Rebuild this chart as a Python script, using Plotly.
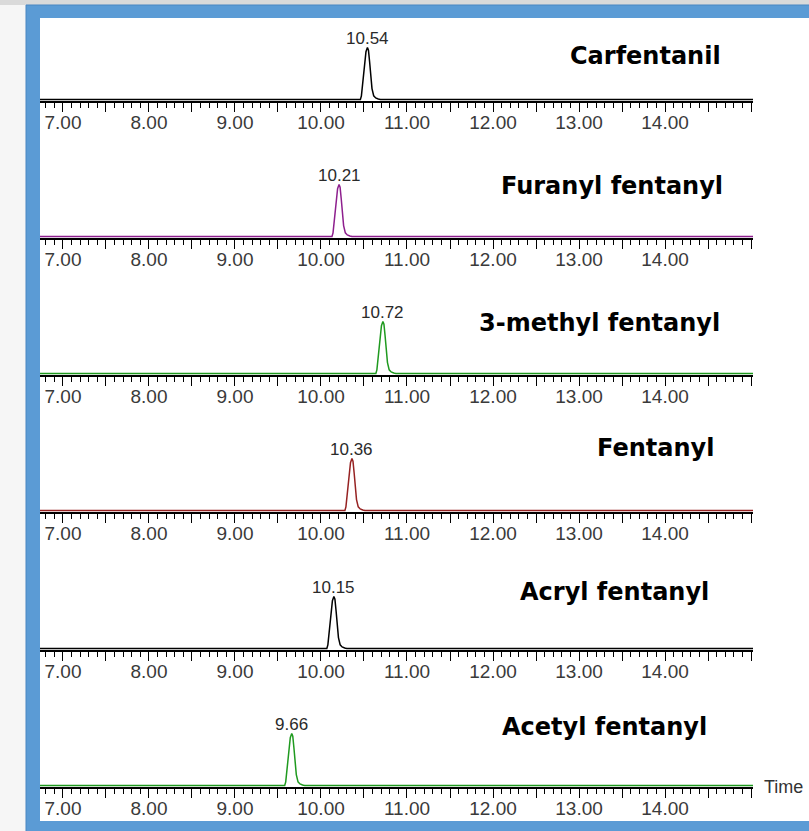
import plotly.graph_objects as go

# ---------------- data ----------------
compounds = ["Carfentanil", "Furanyl fentanyl", "3-methyl fentanyl",
             "Fentanyl", "Acryl fentanyl", "Acetyl fentanyl"]
retention_times = [10.54, 10.21, 10.72, 10.36, 10.15, 9.66]
peak_heights = [100, 100, 100, 100, 100, 100]          # relative intensity, %
trace_colors = ["#000000", "#8e1f8e", "#1f9a1f", "#962222", "#000000", "#1f9a1f"]

# peak profile (offset from apex in min, % of apex)
peak_offsets = [-0.082, -0.070, -0.051, -0.034, -0.017, 0.0, 0.012, 0.025,
                0.038, 0.053, 0.073, 0.096, 0.126, 0.150]
peak_profile = [0, 7, 34, 66, 92, 100, 95, 73, 44, 21, 7, 3, 1, 0]

time_start, time_end = 6.733, 15.023
major_ticks = [7.0, 7.5, 8.0, 8.5, 9.0, 9.5, 10.0, 10.5, 11.0, 11.5,
               12.0, 12.5, 13.0, 13.5, 14.0, 14.5, 15.0]
major_labels = ["7.00", "", "8.00", "", "9.00", "", "10.00", "", "11.00", "",
                "12.00", "", "13.00", "", "14.00", "", ""]

# ---------------- layout helpers (pixels) ----------------
W, H = 809, 831
L, R, T, B = 40, 56, 18, 44
PW, PH = W - L - R, H - T - B


def px_x(px):
    return (px - L) / PW


def px_y(py):
    return (H - B - py) / PH


baselines = [101, 238, 375, 512, 650, 787]
panel_h = 83
px_per_unit = 0.52
lift = 1.5
y_range = [-lift / px_per_unit, (panel_h - lift) / px_per_unit]

name_pos = [(723, 56), (725, 186), (722, 323), (716, 448), (711, 592), (709, 727)]

fig = go.Figure()
layout = dict(
    width=W, height=H, autosize=False,
    margin=dict(l=L, r=R, t=T, b=B, pad=0, autoexpand=False),
    paper_bgcolor="#f6f6f6",
    plot_bgcolor="rgba(0,0,0,0)",
    showlegend=False,
    font=dict(family="Liberation Sans, Arial, sans-serif", color="#222"),
)
annotations = []

for i, (name, rt, hgt, col) in enumerate(zip(compounds, retention_times, peak_heights, trace_colors)):
    k = "" if i == 0 else str(i + 1)
    xs = [time_start] + [rt + o for o in peak_offsets] + [time_end]
    ys = [0] + [hgt * p / 100 for p in peak_profile] + [0]
    fig.add_trace(go.Scatter(x=xs, y=ys, mode="lines",
                             line=dict(color=col, width=1.5),
                             xaxis="x" + k, yaxis="y" + k, hoverinfo="skip"))
    b = baselines[i]
    layout["xaxis" + k] = dict(
        domain=[0, 1], anchor="y" + k, range=[time_start, time_end],
        automargin=False,
        tickmode="array", tickvals=major_ticks, ticktext=major_labels,
        ticks="outside", ticklen=9, tickwidth=1, tickcolor="#000",
        ticklabelstandoff=-6,
        showline=True, linewidth=2, linecolor="#000",
        minor=dict(tickmode="linear", tick0=7.0, dtick=0.1, ticks="outside",
                   ticklen=5, tickwidth=1, tickcolor="#000", showgrid=False),
        showgrid=False, zeroline=False,
        tickfont=dict(size=19, color="#3a3a3a", family="Liberation Sans, Arial, sans-serif"),
        fixedrange=True,
    )
    layout["yaxis" + k] = dict(
        domain=[px_y(b), px_y(b - panel_h)], anchor="x" + k, range=y_range,
        visible=False, fixedrange=True, automargin=False,
    )
    annotations.append(dict(
        x=rt, y=hgt, xref="x" + k, yref="y" + k, text=f"{rt:.2f}",
        showarrow=False, yanchor="middle", yshift=9,
        font=dict(size=17, color="#2a2a2a", family="Liberation Sans, Arial, sans-serif"),
    ))
    nx, ny = name_pos[i]
    annotations.append(dict(
        x=px_x(nx), y=px_y(ny), xref="paper", yref="paper",
        text=f"<b>{name}</b>", showarrow=False, xanchor="right", yanchor="middle",
        font=dict(size=24, color="#000", family="DejaVu Sans, sans-serif"),
    ))

annotations.append(dict(
    x=px_x(762), y=px_y(787), xref="paper", yref="paper", text="Time",
    showarrow=False, xanchor="left", yanchor="middle",
    font=dict(size=18, color="#333", family="Liberation Sans, Arial, sans-serif"),
))

layout["annotations"] = annotations
layout["shapes"] = [
    dict(type="rect", xref="paper", yref="paper", layer="below",
         x0=px_x(-5), x1=px_x(W + 5), y0=px_y(-5), y1=px_y(5),
         fillcolor="#dadada", line=dict(width=0)),
    dict(type="rect", xref="paper", yref="paper", layer="below",
         x0=px_x(26), x1=px_x(W + 10), y0=px_y(5), y1=px_y(H + 10),
         fillcolor="#5b9bd5", line=dict(width=1, color="#4a87c2")),
    dict(type="rect", xref="paper", yref="paper", layer="below",
         x0=px_x(40), x1=px_x(W + 10), y0=px_y(18), y1=px_y(821),
         fillcolor="#ffffff", line=dict(width=0)),
]

fig.update_layout(**layout)
fig.write_html(
    "out.html",
    config={"displayModeBar": False},
    post_script="document.body.style.margin='0px';document.body.style.overflow='hidden';",
)
